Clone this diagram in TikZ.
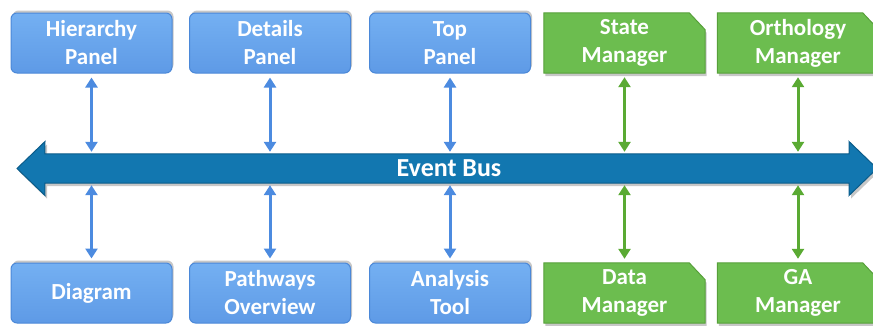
\documentclass[tikz,border=0pt]{standalone}
\usepackage{fontspec}
\setmainfont{Carlito}
\usetikzlibrary{arrows.meta,backgrounds}

\definecolor{paneltop}{HTML}{74B0F2}
\definecolor{panelbot}{HTML}{5E9AE6}
\definecolor{paneledge}{HTML}{4B88D8}
\definecolor{mgrfill}{HTML}{6CBD4F}
\definecolor{mgredge}{HTML}{57A03A}
\definecolor{busfill}{HTML}{1277B0}
\definecolor{busedge}{HTML}{0B5C8A}
\definecolor{linkblue}{HTML}{4C8BE0}
\definecolor{linkgreen}{HTML}{5AAA33}

\tikzset{
  x=1pt, y=1pt,
  boxtext/.style={text=white, font=\fontsize{23}{28}\selectfont\bfseries, align=center,
    rectangle, minimum width=161pt, minimum height=60pt, inner sep=0pt},
  panel/.style={boxtext, rounded corners=6pt, draw=paneledge, line width=1pt,
    top color=paneltop, bottom color=panelbot},
  manager/.style={boxtext},
  shadowfill/.style={fill=black, opacity=0.22},
  link/.style={{Triangle[width=12pt,length=10pt]}-{Triangle[width=12pt,length=10pt]}, line width=3pt},
  bluelink/.style={link, draw=linkblue, fill=linkblue},
  greenlink/.style={link, draw=linkgreen, fill=linkgreen},
}

\begin{document}
\begin{tikzpicture}
\useasboundingbox (0,0) rectangle (873,-325);

% event bus: double-headed arrow
\node[minimum width=804pt, minimum height=29pt, inner sep=0pt] (bus) at (447,-168.5) {};
\fill[shadowfill] (19,-171.5) -- (47,-144.5) -- (47,-157) -- (851,-157) -- (851,-144.5)
  -- (879,-171.5) -- (851,-198.5) -- (851,-186) -- (47,-186) -- (47,-198.5) -- cycle;
\draw[fill=busfill, draw=busedge, line width=1pt, line join=miter]
  (17,-168.5) -- (45,-141.5) -- (bus.north west) -- (bus.north east) -- (849,-141.5)
  -- (877,-168.5) -- (849,-195.5) -- (bus.south east) -- (bus.south west) -- (45,-195.5) -- cycle;
\node[text=white, font=\fontsize{26}{30}\selectfont\bfseries] (bustext) at (449,-168) {Event Bus};

% shadows of the panels
\foreach \p in {(91.5,-43),(270,-43),(450,-43),(91.5,-293),(270,-293),(450,-293)}
  \fill[shadowfill, rounded corners=6pt] \p ++(-79,-27.5) rectangle ++(161,60);

% top row
\node[panel] (hier) at (91.5,-43) {Hierarchy\\Panel};
\node[panel] (det) at (270,-43) {Details\\Panel};
\node[panel] (top) at (450,-43) {Top\\Panel};
\node[manager] (state) at (624.5,-43) {State\\Manager};
\node[manager] (orth) at (798,-43) {Orthology\\Manager};

% bottom row
\node[panel] (diag) at (91.5,-293) {Diagram};
\node[panel] (path) at (270,-293) {Pathways\\Overview};
\node[panel] (anal) at (450,-293) {Analysis\\Tool};
\node[manager] (data) at (624.5,-293) {Data\\Manager};
\node[manager] (ga) at (798,-293) {GA\\Manager};

% manager outlines: rectangles with the top right corner cut off
\begin{scope}[on background layer]
\foreach \n in {state,orth,data,ga} {
  \fill[shadowfill] ([shift={(1.5,-3)}]\n.south west) -- ([shift={(1.5,-3)}]\n.north west)
    -- ([shift={(-14.5,-3)}]\n.north east) -- ([shift={(1.5,-20)}]\n.north east)
    -- ([shift={(1.5,-3)}]\n.south east) -- cycle;
  \draw[fill=mgrfill, draw=mgredge, line width=1pt]
    (\n.south west) -- (\n.north west) -- ([xshift=-16pt]\n.north east)
    -- ([yshift=-17pt]\n.north east) -- (\n.south east) -- cycle;
}
\end{scope}

% links to the bus
\foreach \n in {hier,det,top}
  \draw[bluelink, shorten <=4pt, shorten >=2pt] (\n.south) -- (\n.south |- bus.north);
\foreach \n in {state,orth}
  \draw[greenlink, shorten <=4pt, shorten >=2pt] (\n.south) -- (\n.south |- bus.north);
\foreach \n in {diag,path,anal}
  \draw[bluelink, shorten <=4pt, shorten >=2pt] (\n.north) -- (\n.north |- bus.south);
\foreach \n in {data,ga}
  \draw[greenlink, shorten <=4pt, shorten >=2pt] (\n.north) -- (\n.north |- bus.south);
\end{tikzpicture}
\end{document}
